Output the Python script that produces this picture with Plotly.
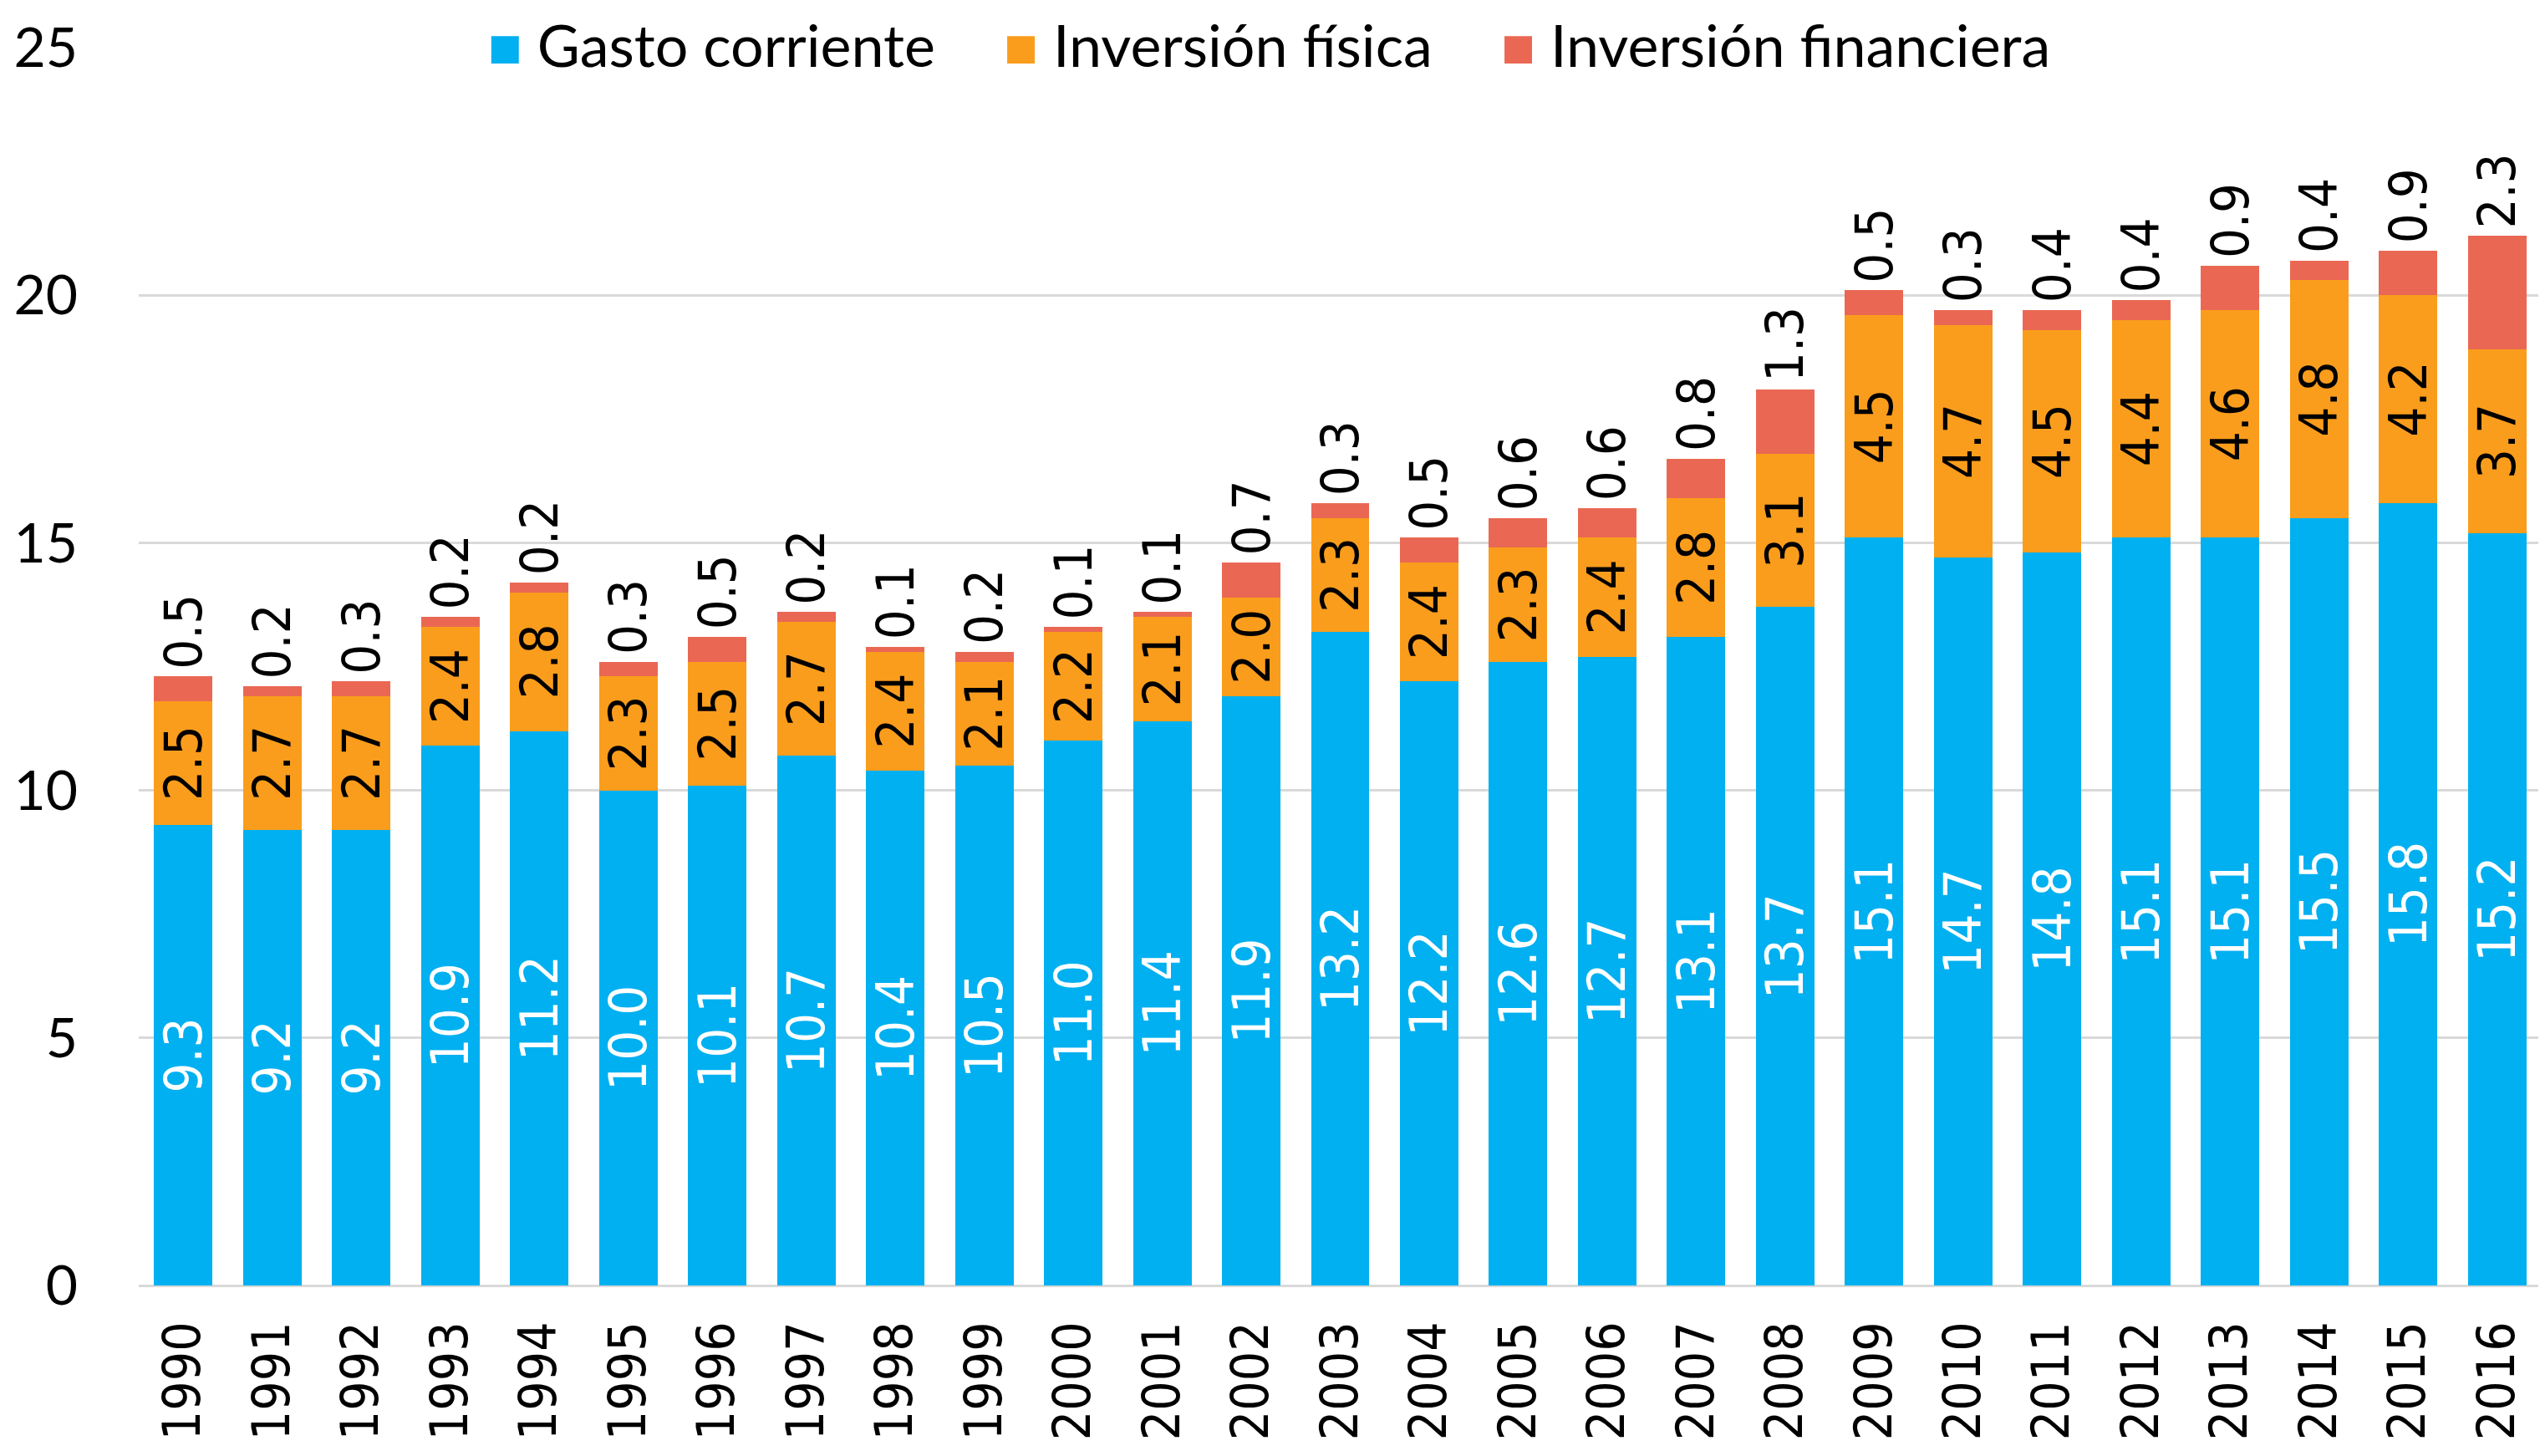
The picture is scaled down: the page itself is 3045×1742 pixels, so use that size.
import plotly.graph_objects as go

# data
years = [str(y) for y in range(1990, 2017)]
gasto_corriente = [9.3, 9.2, 9.2, 10.9, 11.2, 10.0, 10.1, 10.7, 10.4, 10.5, 11.0, 11.4, 11.9, 13.2,
                   12.2, 12.6, 12.7, 13.1, 13.7, 15.1, 14.7, 14.8, 15.1, 15.1, 15.5, 15.8, 15.2]
inversion_fisica = [2.5, 2.7, 2.7, 2.4, 2.8, 2.3, 2.5, 2.7, 2.4, 2.1, 2.2, 2.1, 2.0, 2.3,
                    2.4, 2.3, 2.4, 2.8, 3.1, 4.5, 4.7, 4.5, 4.4, 4.6, 4.8, 4.2, 3.7]
inversion_financiera = [0.5, 0.2, 0.3, 0.2, 0.2, 0.3, 0.5, 0.2, 0.1, 0.2, 0.1, 0.1, 0.7, 0.3,
                        0.5, 0.6, 0.6, 0.8, 1.3, 0.5, 0.3, 0.4, 0.4, 0.9, 0.4, 0.9, 2.3]
y_ticks = [0, 5, 10, 15, 20, 25]

names = ['Gasto corriente', 'Inversión física', 'Inversión financiera']
colors = ['#00B0F0', '#FA9D1C', '#EA6853']

label_font = 'DejaVu Sans Condensed, DejaVu Sans'
main_font = 'Lato'

fig = go.Figure()

# bars (legend drawn with dummy traces so the squares can be bigger)
fig.add_trace(go.Bar(
    x=years, y=gasto_corriente, name=names[0], marker=dict(color=colors[0], line=dict(width=0)),
    texttemplate='%{y:.1f}', textposition='inside', insidetextanchor='middle', textangle=-90,
    constraintext='none', textfont=dict(family=label_font, size=63, color='white'),
    showlegend=False,
))
fig.add_trace(go.Bar(
    x=years, y=inversion_fisica, name=names[1], marker=dict(color=colors[1], line=dict(width=0)),
    texttemplate='%{y:.1f}', textposition='inside', insidetextanchor='middle', textangle=-90,
    constraintext='none', textfont=dict(family=label_font, size=63, color='black'),
    showlegend=False,
))
fig.add_trace(go.Bar(
    x=years, y=inversion_financiera, name=names[2], marker=dict(color=colors[2], line=dict(width=0)),
    texttemplate='\u200a%{y:.1f}', textposition='outside', textangle=-90,
    constraintext='none', textfont=dict(family=label_font, size=63, color='black'),
    cliponaxis=False, showlegend=False,
))

# legend entries: invisible markers, coloured square drawn in the name
for n, c in zip(names, colors):
    fig.add_trace(go.Scatter(
        x=[None], y=[None], mode='markers',
        name=f'<span style="color:{c};font-size:68px">■</span> {n}',
        marker=dict(size=1, color='rgba(0,0,0,0)'),
    ))

# page body adds an 8px offset, margins take it into account
fig.update_layout(
    width=3045, height=1742,
    margin=dict(l=158, r=12, t=49, b=212, autoexpand=False),
    barmode='stack', bargap=0.343,
    plot_bgcolor='white', paper_bgcolor='white',
    font=dict(family=main_font, size=66, color='black'),
    legend=dict(
        orientation='h', x=0.458, xanchor='center', y=1.003, yanchor='middle',
        traceorder='normal', itemwidth=67, font=dict(family=main_font, size=70),
        bgcolor='rgba(0,0,0,0)',
    ),
    xaxis=dict(
        type='category', tickangle=-90, showgrid=False, showline=False, zeroline=False,
        tickfont=dict(family=label_font, size=62), ticks='', ticklabelstandoff=30,
    ),
    yaxis=dict(
        range=[0, 25], tickvals=y_ticks, showgrid=True, gridcolor='#D9D9D9', gridwidth=3,
        zeroline=True, zerolinecolor='#D9D9D9', zerolinewidth=3, showline=False,
        tickfont=dict(family=main_font, size=66), ticks='', ticklabelstandoff=72,
    ),
)

fig.write_html('out.html')
